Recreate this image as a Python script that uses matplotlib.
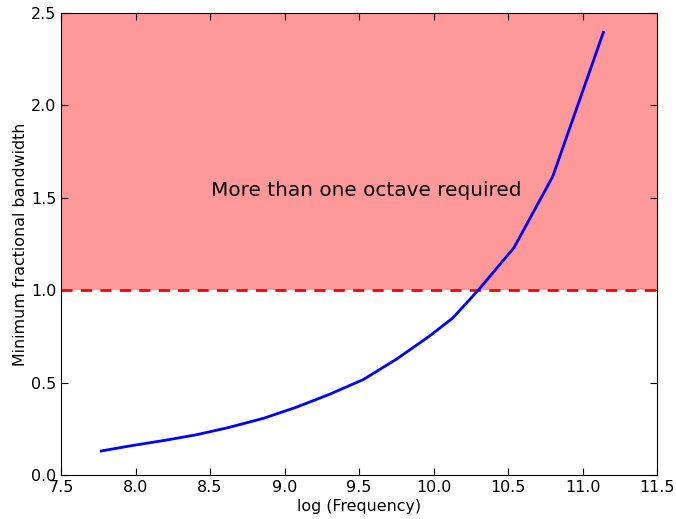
import matplotlib
matplotlib.use("Agg")
import matplotlib.pyplot as plt

log_freq = [7.77, 7.96, 8.2, 8.41, 8.62, 8.86, 9.08, 9.3, 9.53, 9.75, 9.97, 10.13, 10.3, 10.54, 10.80, 11.14]
min_frac_bw = [0.130, 0.157, 0.188, 0.218, 0.256, 0.307, 0.367, 0.436, 0.517, 0.626, 0.750, 0.85, 1.0, 1.23, 1.615, 2.395]
threshold = 1.0
xlim = (7.5, 11.5)
ylim = (0.0, 2.5)
xticks = [7.5, 8.0, 8.5, 9.0, 9.5, 10.0, 10.5, 11.0, 11.5]
yticks = [0.0, 0.5, 1.0, 1.5, 2.0, 2.5]
label_text = "More than one octave required"

fig = plt.figure(figsize=(6.76, 5.19), dpi=100)
ax = fig.add_axes([61/676, 1-475/519, (657-61)/676, (475-13)/519])

ax.axhspan(threshold, ylim[1], color=(1.0, 0.6, 0.6), lw=0)
ax.axhline(threshold, color='red', ls='--', lw=2, dashes=(4, 3))
ax.plot(log_freq, min_frac_bw, color='blue', lw=2)
ax.text(8.505, 1.54, label_text, fontsize=14.4, va='center', ha='left')

ax.set_xlim(*xlim)
ax.set_ylim(*ylim)
ax.set_xticks(xticks)
ax.set_yticks(yticks)
ax.set_xticklabels([f"{t:.1f}" for t in xticks])
ax.set_yticklabels([f"{t:.1f}" for t in yticks])
ax.tick_params(direction='in', top=True, right=True, length=5, labelsize=11.4, pad=3.5)
ax.set_xlabel("log (Frequency)", fontsize=11.4, labelpad=3)
ax.set_ylabel("Minimum fractional bandwidth", fontsize=11.4, labelpad=2)

fig.savefig("out.png", dpi=100)
